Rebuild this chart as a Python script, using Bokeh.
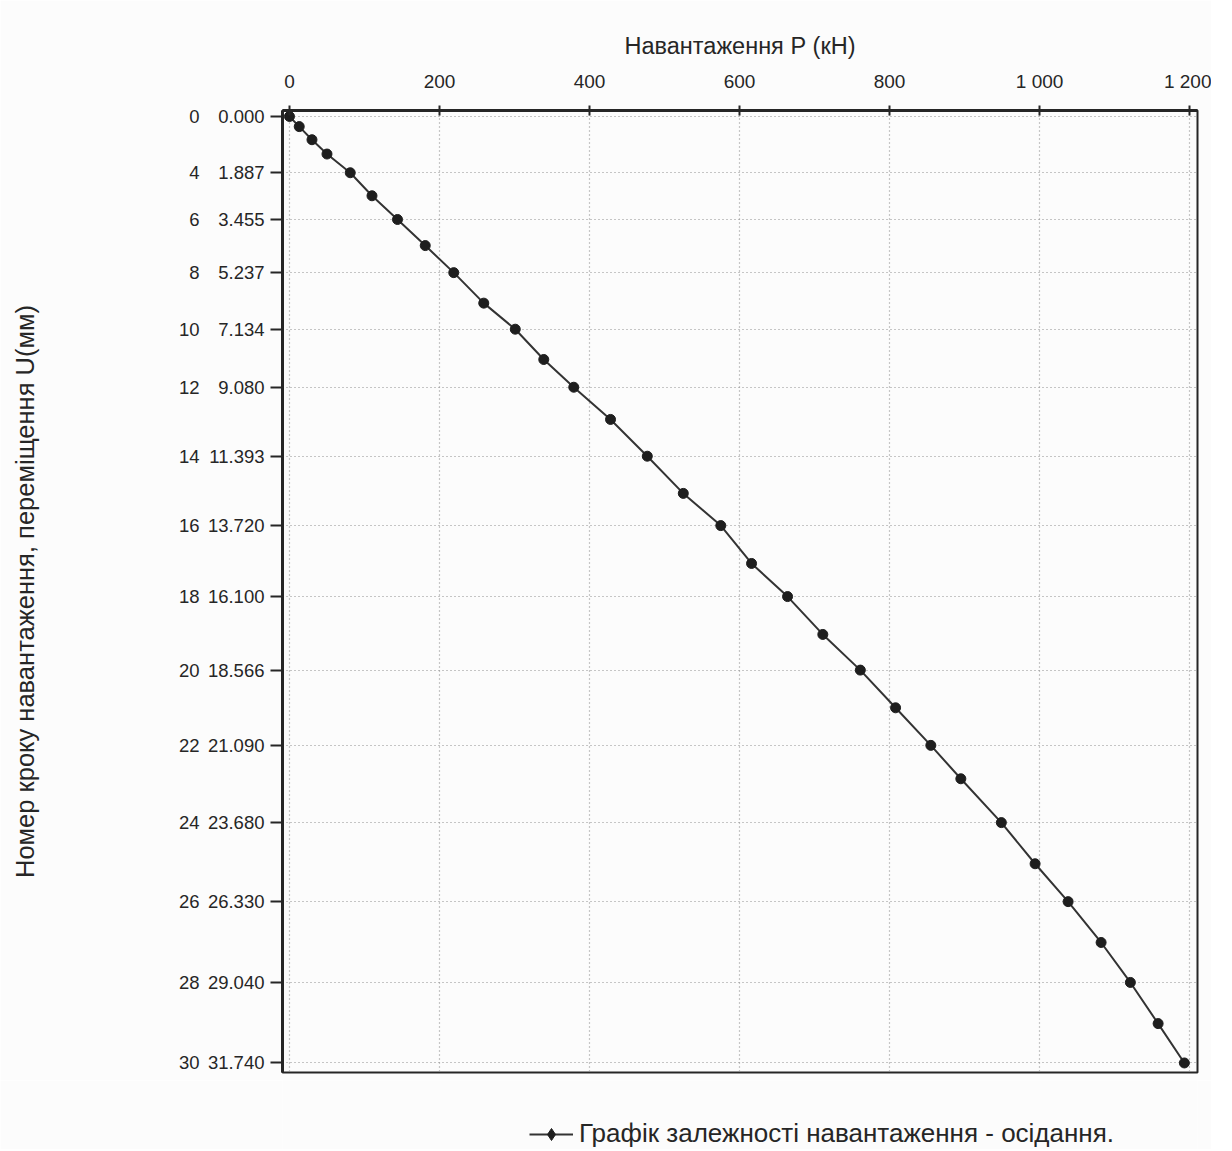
from bokeh.plotting import figure
from bokeh.layouts import column
from bokeh.models import (Range1d, FixedTicker, LinearAxis, Legend, LegendItem,
                          ColumnDataSource, NumeralTickFormatter, CustomJSTickFormatter)
from bokeh.embed import file_html
from bokeh.resources import INLINE

# ---- data ----
steps = list(range(31))
load_kN = [0, 13, 30, 50, 81, 110, 144, 181, 219, 259, 301, 339, 379, 428, 477,
           525, 575, 616, 664, 711, 761, 808, 855, 895, 949, 994, 1038, 1082, 1121, 1158, 1193]
settlement_mm = [0.000, 0.34, 0.78, 1.26, 1.887, 2.66, 3.455, 4.33, 5.237, 6.26, 7.134,
                 8.15, 9.080, 10.16, 11.393, 12.64, 13.720, 14.99, 16.100, 17.37, 18.566,
                 19.83, 21.090, 22.21, 23.680, 25.06, 26.330, 27.70, 29.040, 30.42, 31.740]
x_ticks = [0, 200, 400, 600, 800, 1000, 1200]
x_tick_labels = ["0", "200", "400", "600", "800", "1 000", "1 200"]
y_tick_steps = [0, 4, 6, 8, 10, 12, 14, 16, 18, 20, 22, 24, 26, 28, 30]
y_tick_values = [0.000, 1.887, 3.455, 5.237, 7.134, 9.080, 11.393, 13.720, 16.100,
                 18.566, 21.090, 23.680, 26.330, 29.040, 31.740]

x_title = "Навантаження Р (кН)"
y_title = "Номер кроку навантаження, переміщення U(мм)"
legend_label = "Графік залежності навантаження - осідання."

FONT = "Liberation Sans"
BG = "#fcfcfc"
INK = "#262626"
LINE_C = "#333333"
MARK_C = "#1e1e1e"

src = ColumnDataSource(dict(step=steps, load=load_kN, u=settlement_mm))

LEFT = 282
RIGHT = 14
FW = 915
p = figure(frame_width=FW, frame_height=962,
           x_range=Range1d(-9.3, 1210.5), y_range=Range1d(32.06, -0.2),
           x_axis_location="above", y_axis_location="left",
           output_backend="svg", toolbar_location=None,
           min_border_left=LEFT, min_border_top=110, min_border_right=RIGHT, min_border_bottom=8,
           background_fill_color=BG, border_fill_color=BG)

p.outline_line_color = INK
p.outline_line_width = 2

# top x axis
xa = p.xaxis[0]
xa.ticker = FixedTicker(ticks=x_ticks)
xa.major_label_overrides = dict(zip(x_ticks, x_tick_labels))
xa.axis_label = x_title
xa.axis_label_text_font = FONT
xa.axis_label_text_font_style = "normal"
xa.axis_label_text_font_size = "23.5px"
xa.axis_label_text_color = INK
xa.axis_label_standoff = 9
xa.major_label_text_font = FONT
xa.major_label_text_font_size = "19px"
xa.major_label_text_color = INK
xa.major_label_standoff = 14
xa.axis_line_width = 3
xa.axis_line_color = INK
xa.major_tick_in = 5
xa.major_tick_out = 5
xa.major_tick_line_width = 2
xa.major_tick_line_color = INK
xa.minor_tick_line_color = None

# left axis: displacement values
ya = p.yaxis[0]
ya.ticker = FixedTicker(ticks=y_tick_values)
ya.formatter = NumeralTickFormatter(format="0.000")
ya.major_label_text_font = FONT
ya.major_label_text_font_size = "18.5px"
ya.major_label_text_color = INK
ya.major_label_standoff = 6
ya.axis_line_width = 3
ya.axis_line_color = INK
ya.major_tick_in = 0
ya.major_tick_out = 12
ya.major_tick_line_width = 2
ya.major_tick_line_color = INK
ya.minor_tick_line_color = None

# outer left axis: step numbers
step_fmt = CustomJSTickFormatter(args=dict(vals=y_tick_values, stp=y_tick_steps), code="""
    for (let i = 0; i < vals.length; i++) {
        if (Math.abs(vals[i] - tick) < 1e-6) { return String(stp[i]); }
    }
    return "";
""")
yb = LinearAxis(ticker=FixedTicker(ticks=y_tick_values), formatter=step_fmt,
                axis_line_color=None, major_tick_line_color=None, minor_tick_line_color=None,
                major_tick_in=0, major_tick_out=0, major_label_standoff=5,
                major_label_text_font=FONT, major_label_text_font_size="18.5px",
                major_label_text_color=INK,
                axis_label=y_title, axis_label_text_font=FONT,
                axis_label_text_font_style="normal", axis_label_text_font_size="25.5px",
                axis_label_text_color=INK, axis_label_standoff=137)
p.add_layout(yb, "left")

# grids
p.xgrid.ticker = FixedTicker(ticks=x_ticks)
p.ygrid.ticker = FixedTicker(ticks=y_tick_values)
for g in (p.xgrid, p.ygrid):
    g.grid_line_color = "#8f8f8f"
    g.grid_line_dash = "1 3"
    g.grid_line_width = 1.2

p.line("load", "u", source=src, line_color=LINE_C, line_width=2)
p.scatter("load", "u", source=src, marker="circle", size=10,
          fill_color=MARK_C, line_color=MARK_C)

# legend strip below the chart (swatch renderers sit outside the strip's view)
p2 = figure(width=LEFT + FW + RIGHT, height=69, x_range=Range1d(0, 1), y_range=Range1d(0, 1),
            x_axis_type=None, y_axis_type=None, output_backend="svg", toolbar_location=None,
            min_border=0, background_fill_color=BG, border_fill_color=BG)
p2.outline_line_color = None
p2.grid.visible = False
sw_src = ColumnDataSource(dict(x=[-5], y=[-5]))
l2 = p2.line("x", "y", source=sw_src, line_color=LINE_C, line_width=2)
s2 = p2.scatter("x", "y", source=sw_src, marker="diamond", size=13,
                fill_color=MARK_C, line_color=MARK_C)
legend = Legend(items=[LegendItem(label=legend_label, renderers=[l2, s2])],
                location=(247, 0), orientation="horizontal",
                border_line_color=None, background_fill_alpha=0,
                label_text_font=FONT, label_text_font_size="26px", label_text_color=INK,
                glyph_width=44, glyph_height=30, padding=0, margin=0, label_standoff=6)
p2.add_layout(legend, "center")

layout = column(p, p2, spacing=0)
open("out.html", "w").write(file_html(layout, INLINE))
